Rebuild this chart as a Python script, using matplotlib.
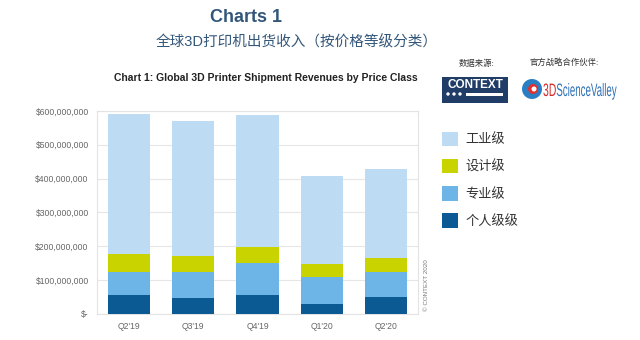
"""
+ 全球3D打印机出货收入（按价格等级分类）
"""
import matplotlib
matplotlib.use("Agg")
import matplotlib.pyplot as plt
import matplotlib.patches as mpatches
import matplotlib.ticker as mticker
from matplotlib.textpath import TextPath
from matplotlib.font_manager import FontProperties
from matplotlib.transforms import Affine2D
import numpy as np

# --- データ ---
quarters = ["Q2'19", "Q3'19", "Q4'19", "Q1'20", "Q2'20"]
personal = [55e6, 46e6, 55e6, 30e6, 48e6]        # 个人级级
professional = [68e6, 77e6, 94e6, 79e6, 75e6]    # 专业级
design = [54e6, 48e6, 49e6, 38e6, 41e6]          # 设计级
industrial = [414e6, 399e6, 390e6, 260e6, 264e6]  # 工业级
series_names = ["个人级级", "专业级", "设计级", "工业级"]
series_colors = ["#0b5a93", "#6cb5e6", "#c9d300", "#bddcf3"]
yticks = [0, 100e6, 200e6, 300e6, 400e6, 500e6, 600e6]

plt.rcParams['font.family'] = ['Liberation Sans', 'Noto Sans CJK SC', 'DejaVu Sans']

W, H = 640, 340
fig = plt.figure(figsize=(6.4, 3.4), dpi=100, facecolor="white")

def px(x, y):
    # ピクセル座標 -> figure座標
    return x / W, 1 - y / H

def narrow_text(s, x0, y0, height, xscale, color):
    # 縦長ロゴ文字 (ピクセル単位でパスを作る)
    tp = TextPath((0, 0), s, size=height, prop=FontProperties(family="Liberation Sans"))
    tr = Affine2D().scale(xscale, 1).translate(x0, H - y0)
    path = tr.transform_path(tp)
    patch = mpatches.PathPatch(path, facecolor=color, edgecolor="none",
                               transform=Affine2D().scale(1 / W, 1 / H) + fig.transFigure)
    fig.patches.append(patch)
    ext = tp.get_extents()
    return x0 + ext.x1 * xscale

# --- タイトル ---
title_c = "#33577a"
fig.text(*px(246, 17), "Charts 1", ha="center", va="center", fontsize=13,
         fontweight="bold", color=title_c)
fig.text(*px(297, 42), "全球3D打印机出货收入（按价格等级分类）", ha="center", va="center",
         fontsize=10.5, color=title_c)
fig.text(*px(266, 78), "Chart 1: Global 3D Printer Shipment Revenues by Price Class",
         ha="center", va="center", fontsize=7.5, fontweight="bold", color="#222222")

# --- 出典 / ロゴ ---
fig.text(*px(477, 64), "数据来源:", ha="center", va="center", fontsize=6, color="#333333")
fig.text(*px(564, 63), "官方战略合作伙伴:", ha="center", va="center", fontsize=6, color="#333333")
fig.patches.append(mpatches.Rectangle(px(442, 103), 66 / W, 26 / H, transform=fig.transFigure,
                                      facecolor="#1f3d66", edgecolor="none"))
fig.text(*px(475, 85), "CONTEXT", ha="center", va="center", fontsize=8.5, fontweight="bold",
         color="white")
for dx in [448, 454, 460]:
    fig.patches.append(mpatches.Ellipse(px(dx, 94), 3.4 / W, 3.4 / H, transform=fig.transFigure,
                                        facecolor="white", edgecolor="none"))
fig.patches.append(mpatches.Rectangle(px(466, 95.5), 37 / W, 3 / H, transform=fig.transFigure,
                                      facecolor="white", edgecolor="none"))
fig.patches.append(mpatches.Ellipse(px(532, 89), 20 / W, 20 / H, transform=fig.transFigure,
                                    facecolor="#2a7fc4", edgecolor="none"))
fig.patches.append(mpatches.Ellipse(px(533, 89), 10 / W, 10 / H, transform=fig.transFigure,
                                    facecolor="#e03030", edgecolor="none"))
fig.patches.append(mpatches.Ellipse(px(534, 89), 5 / W, 5 / H, transform=fig.transFigure,
                                    facecolor="white", edgecolor="none"))
xe = narrow_text("3D", 543, 96, 18, 0.58, "#d42a2a")
narrow_text("ScienceValley", xe + 0.5, 96, 18, 0.54, "#2c6fb5")

# --- グラフ ---
ax = fig.add_axes([97 / W, 1 - 313.7 / H, (418 - 97) / W, (313.7 - 111) / H])
x = np.arange(len(quarters))
bottom = np.zeros(len(quarters))
for vals, name, col in zip([personal, professional, design, industrial], series_names, series_colors):
    ax.bar(x, vals, width=0.66, bottom=bottom, color=col, label=name, zorder=3)
    bottom += np.array(vals)

ax.set_xlim(-0.5, len(quarters) - 0.5)
ax.set_ylim(0, 600e6)
ax.set_yticks(yticks)
ax.yaxis.set_major_formatter(mticker.FuncFormatter(lambda v, p: "$-" if v == 0 else f"${v:,.0f}"))
ax.set_xticks(x)
ax.set_xticklabels(quarters)
ax.tick_params(axis="both", length=0, labelsize=6.2, colors="#666666", pad=6)
ax.grid(axis="y", color="#e6e6e6", linewidth=0.8, zorder=0)
for s in ax.spines.values():
    s.set_color("#e3e3e3")
    s.set_linewidth(0.8)

fig.text(*px(427, 285), "© CONTEXT 2020", rotation=90, ha="center", va="center",
         fontsize=4.5, color="#777777")

# --- 凡例 ---
handles, labels = ax.get_legend_handles_labels()
leg = fig.legend(handles[::-1], labels[::-1], loc="upper left", bbox_to_anchor=px(430, 120),
                 frameon=False, fontsize=9.5, handlelength=1.2, handleheight=1.3,
                 labelspacing=0.95, handletextpad=0.6)
for t in leg.get_texts():
    t.set_color("#333333")

fig.savefig("out.png", dpi=100, facecolor="white")
